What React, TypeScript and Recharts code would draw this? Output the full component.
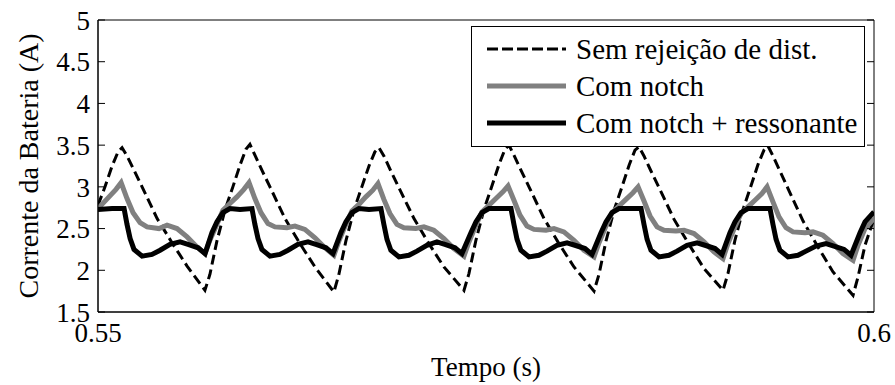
import { LineChart, Line, XAxis, YAxis, ReferenceArea } from "recharts"

// Corrente da bateria, 0.55 s a 0.6 s: [tempo (s), corrente (A)]
const semRejeicao: [number, number][] = [
  [0.55, 2.78], [0.55045, 3.0], [0.55091, 3.25], [0.55129, 3.42], [0.55155, 3.47],
  [0.55187, 3.37], [0.55232, 3.2], [0.55284, 3.0], [0.55381, 2.62], [0.55477, 2.33],
  [0.55574, 2.05], [0.55689, 1.76],
  [0.55721, 1.95], [0.55766, 2.35], [0.55818, 2.72], [0.55869, 3.0], [0.55915, 3.26],
  [0.55953, 3.45], [0.55979, 3.51], [0.56011, 3.38], [0.56056, 3.2], [0.56108, 3.0],
  [0.56205, 2.62], [0.56301, 2.32], [0.56398, 2.04], [0.5652, 1.74],
  [0.56552, 1.95], [0.56597, 2.35], [0.56649, 2.72], [0.567, 3.0], [0.56746, 3.25],
  [0.56784, 3.42], [0.5681, 3.47], [0.56842, 3.37], [0.56887, 3.19], [0.56939, 2.99],
  [0.57036, 2.62], [0.57132, 2.32], [0.57229, 2.04], [0.57358, 1.76],
  [0.5739, 1.96], [0.57435, 2.36], [0.57487, 2.73], [0.57538, 3.01], [0.57584, 3.27],
  [0.57622, 3.45], [0.57648, 3.5], [0.5768, 3.38], [0.57725, 3.2], [0.57777, 3.0],
  [0.57874, 2.62], [0.5797, 2.32], [0.58067, 2.04], [0.58196, 1.75],
  [0.58228, 1.95], [0.58273, 2.35], [0.58325, 2.72], [0.58376, 3.0], [0.58422, 3.26],
  [0.5846, 3.44], [0.58486, 3.48], [0.58518, 3.37], [0.58563, 3.19], [0.58615, 2.99],
  [0.58712, 2.61], [0.58808, 2.31], [0.58905, 2.02], [0.59027, 1.76],
  [0.59059, 1.96], [0.59104, 2.36], [0.59156, 2.73], [0.59207, 3.01], [0.59253, 3.27],
  [0.59291, 3.44], [0.59317, 3.49], [0.59349, 3.37], [0.59394, 3.19], [0.59446, 2.98],
  [0.59543, 2.59], [0.59639, 2.28], [0.59736, 1.98], [0.59865, 1.7],
  [0.59897, 1.92], [0.59942, 2.3], [0.6, 2.62],
]

const comNotch: [number, number][] = [
  [0.55, 2.74], [0.55071, 2.88], [0.55116, 2.97], [0.55149, 3.05], [0.55187, 2.86],
  [0.55226, 2.69], [0.55271, 2.57], [0.55316, 2.52], [0.55393, 2.5], [0.55445, 2.54],
  [0.55509, 2.5], [0.55574, 2.4], [0.55638, 2.28], [0.55689, 2.2],
  [0.55721, 2.36], [0.55766, 2.55], [0.55805, 2.72], [0.5585, 2.8], [0.55895, 2.88],
  [0.5594, 2.97], [0.55973, 3.05], [0.56011, 2.86], [0.5605, 2.69], [0.56095, 2.56],
  [0.5614, 2.52], [0.56217, 2.51], [0.56269, 2.53], [0.56333, 2.49], [0.56398, 2.39],
  [0.56462, 2.27], [0.5652, 2.18],
  [0.56552, 2.35], [0.56597, 2.55], [0.56636, 2.71], [0.56681, 2.79], [0.56726, 2.88],
  [0.56771, 2.96], [0.56804, 3.04], [0.56842, 2.85], [0.56881, 2.68], [0.56926, 2.55],
  [0.56971, 2.51], [0.57048, 2.5], [0.571, 2.52], [0.57164, 2.48], [0.57229, 2.38],
  [0.57293, 2.26], [0.57358, 2.17],
  [0.5739, 2.34], [0.57435, 2.54], [0.57474, 2.7], [0.57519, 2.78], [0.57564, 2.86],
  [0.57609, 2.94], [0.57642, 3.01], [0.5768, 2.84], [0.57719, 2.66], [0.57764, 2.53],
  [0.57809, 2.49], [0.57886, 2.48], [0.57938, 2.5], [0.58002, 2.46], [0.58067, 2.36],
  [0.58131, 2.24], [0.58196, 2.16],
  [0.58228, 2.33], [0.58273, 2.53], [0.58312, 2.69], [0.58357, 2.77], [0.58402, 2.85],
  [0.58447, 2.93], [0.5848, 3.0], [0.58518, 2.83], [0.58557, 2.65], [0.58602, 2.52],
  [0.58647, 2.48], [0.58724, 2.47], [0.58776, 2.48], [0.5884, 2.44], [0.58905, 2.34],
  [0.58969, 2.22], [0.59027, 2.14],
  [0.59059, 2.32], [0.59104, 2.52], [0.59143, 2.68], [0.59188, 2.76], [0.59233, 2.84],
  [0.59278, 2.92], [0.59311, 3.0], [0.59349, 2.82], [0.59388, 2.64], [0.59433, 2.51],
  [0.59478, 2.46], [0.59555, 2.45], [0.59607, 2.46], [0.59671, 2.42], [0.59736, 2.32],
  [0.598, 2.2], [0.59865, 2.12],
  [0.59897, 2.3], [0.59942, 2.5], [0.6, 2.62],
]

const comRessonante: [number, number][] = [
  [0.55, 2.73], [0.55091, 2.74], [0.55168, 2.74], [0.55187, 2.55], [0.55207, 2.38],
  [0.55232, 2.25], [0.55284, 2.17], [0.55348, 2.19], [0.554, 2.24], [0.55464, 2.31],
  [0.55529, 2.34], [0.5558, 2.31], [0.55645, 2.27], [0.5569, 2.2],
  [0.55734, 2.45], [0.55766, 2.58], [0.55805, 2.69], [0.5585, 2.74], [0.55915, 2.73],
  [0.55992, 2.74], [0.56011, 2.55], [0.56031, 2.38], [0.56056, 2.25], [0.56108, 2.17],
  [0.56172, 2.19], [0.56224, 2.24], [0.56288, 2.31], [0.56353, 2.34], [0.56404, 2.31],
  [0.56469, 2.27], [0.56514, 2.2],
  [0.56565, 2.45], [0.56597, 2.58], [0.56636, 2.69], [0.56681, 2.74], [0.56746, 2.73],
  [0.56823, 2.74], [0.56842, 2.55], [0.56862, 2.37], [0.56887, 2.24], [0.56939, 2.16],
  [0.57003, 2.18], [0.57055, 2.23], [0.57119, 2.3], [0.57184, 2.34], [0.57235, 2.31],
  [0.573, 2.27], [0.57345, 2.2],
  [0.57403, 2.45], [0.57435, 2.58], [0.57474, 2.69], [0.57519, 2.74], [0.57584, 2.74],
  [0.57661, 2.74], [0.5768, 2.55], [0.577, 2.37], [0.57725, 2.24], [0.57777, 2.16],
  [0.57841, 2.18], [0.57893, 2.23], [0.57957, 2.3], [0.58022, 2.33], [0.58073, 2.3],
  [0.58138, 2.26], [0.58183, 2.19],
  [0.58241, 2.45], [0.58273, 2.58], [0.58312, 2.69], [0.58357, 2.74], [0.58422, 2.74],
  [0.58499, 2.74], [0.58518, 2.55], [0.58538, 2.37], [0.58563, 2.24], [0.58615, 2.16],
  [0.58679, 2.18], [0.58731, 2.23], [0.58795, 2.3], [0.5886, 2.33], [0.58911, 2.3],
  [0.58976, 2.26], [0.59021, 2.19],
  [0.59072, 2.45], [0.59104, 2.58], [0.59143, 2.69], [0.59188, 2.74], [0.59253, 2.74],
  [0.5933, 2.74], [0.59349, 2.55], [0.59369, 2.37], [0.59394, 2.24], [0.59446, 2.16],
  [0.5951, 2.18], [0.59562, 2.23], [0.59626, 2.29], [0.59691, 2.32], [0.59742, 2.29],
  [0.59807, 2.25], [0.59852, 2.18],
  [0.5991, 2.45], [0.59942, 2.58], [0.6, 2.7],
]

const yTicks = [1.5, 2, 2.5, 3, 3.5, 4, 4.5, 5]
const xTicks = [0.55, 0.6]

const legendItems = [
  { name: "Sem rejeição de dist.", color: "#000", width: 3, dash: "11 4" },
  { name: "Com notch", color: "#808080", width: 5, dash: undefined },
  { name: "Com notch + ressonante", color: "#000", width: 5, dash: undefined },
]

const W = 895
const H = 385
const FONT = "'Liberation Serif', 'Times New Roman', serif"
const FS = 27
const PLOT_RIGHT = 874

const toPoints = (rows: [number, number][]) => rows.map(([t, v]) => ({ t, v }))

function YTick(props: any) {
  const { x, y, payload } = props
  const left = x + 8
  return (
    <g>
      <line x1={left} x2={left + 7} y1={y} y2={y} stroke="#000" />
      <line x1={PLOT_RIGHT - 7} x2={PLOT_RIGHT} y1={y} y2={y} stroke="#000" />
      <text x={x} y={y} dy="0.36em" textAnchor="end" fontFamily={FONT} fontSize={FS} fill="#000">
        {payload.value}
      </text>
    </g>
  )
}

function XTick(props: any) {
  const { x, y, payload } = props
  return (
    <text x={x} y={y} dy="0.72em" textAnchor="middle" fontFamily={FONT} fontSize={FS} fill="#000">
      {payload.value}
    </text>
  )
}

// legenda desenhada por cima do gráfico, no canto superior direito
function LegendBox() {
  return (
    <svg width={394} height={121} style={{ position: "absolute", left: 471, top: 26, display: "block" }}>
      <rect x={0.5} y={0.5} width={393} height={120} fill="#fff" stroke="#000" />
      {legendItems.map((item, i) => {
        const cy = 23 + i * 37
        return (
          <g key={item.name}>
            <line x1={16} x2={95} y1={cy} y2={cy} stroke={item.color} strokeWidth={item.width} strokeDasharray={item.dash} />
            <text x={105} y={cy} dy="0.34em" fontFamily={FONT} fontSize={29} fill="#000">
              {item.name}
            </text>
          </g>
        )
      })}
    </svg>
  )
}

export default function App() {
  return (
    <div style={{ position: "absolute", left: 0, top: 0, width: W, height: H, background: "#fff" }}>
      <LineChart width={W} height={H} margin={{ top: 20, right: W - PLOT_RIGHT, bottom: 0, left: 0 }}>
        <XAxis
          dataKey="t"
          type="number"
          domain={[0.55, 0.6]}
          ticks={xTicks}
          allowDataOverflow
          height={73}
          tickSize={0}
          tickMargin={11}
          tickLine={false}
          axisLine={{ stroke: "#000" }}
          tick={<XTick />}
          label={({ viewBox }: any) => (
            <text x={viewBox.x + viewBox.width / 2} y={viewBox.y + 64} textAnchor="middle" fontFamily={FONT} fontSize={FS} fill="#000">
              Tempo (s)
            </text>
          )}
        />
        <YAxis
          type="number"
          domain={[1.5, 5]}
          ticks={yTicks}
          allowDataOverflow
          width={98}
          tickSize={0}
          tickMargin={8}
          tickLine={false}
          axisLine={{ stroke: "#000" }}
          tick={<YTick />}
          label={({ viewBox }: any) => {
            const cx = 28
            const cy = viewBox.y + viewBox.height / 2
            return (
              <text x={cx} y={cy} transform={`rotate(-90 ${cx} ${cy})`} dy="0.34em" textAnchor="middle" fontFamily={FONT} fontSize={28} fill="#000">
                Corrente da Bateria (A)
              </text>
            )
          }}
        />
        <ReferenceArea x1={0.55} x2={0.6} y1={1.5} y2={5} fill="none" stroke="#000" strokeWidth={1} />
        <Line data={toPoints(semRejeicao)} dataKey="v" name="Sem rejeição de dist." stroke="#000" strokeWidth={3} strokeDasharray="10 5" dot={false} isAnimationActive={false} />
        <Line data={toPoints(comNotch)} dataKey="v" name="Com notch" stroke="#808080" strokeWidth={5} dot={false} isAnimationActive={false} />
        <Line data={toPoints(comRessonante)} dataKey="v" name="Com notch + ressonante" stroke="#000" strokeWidth={5} dot={false} isAnimationActive={false} />
      </LineChart>
      <LegendBox />
    </div>
  )
}
